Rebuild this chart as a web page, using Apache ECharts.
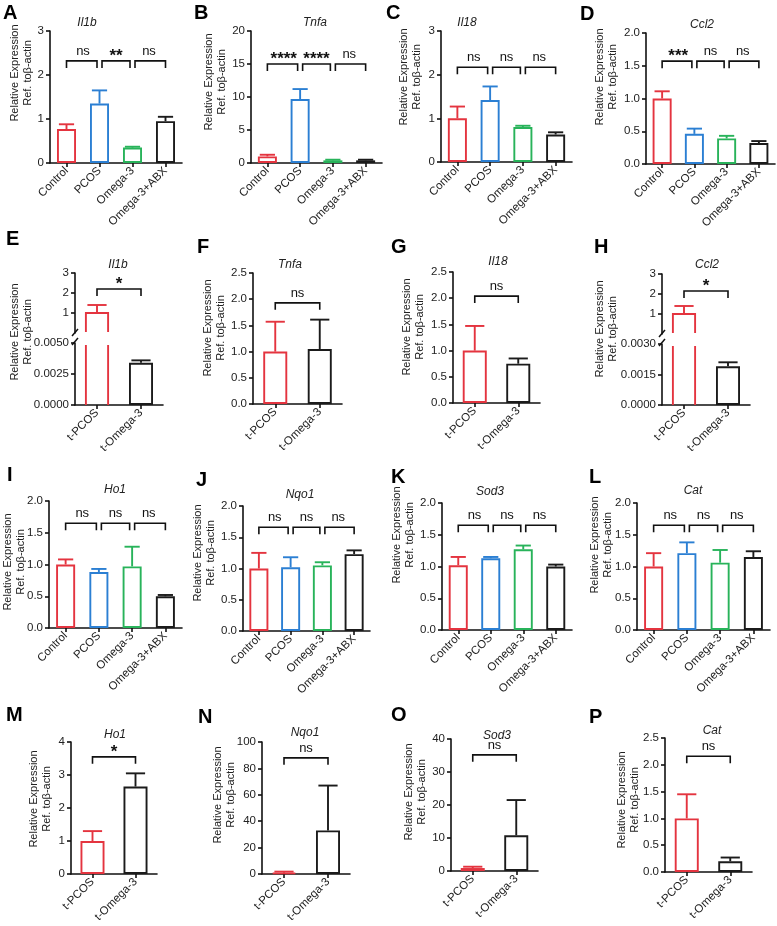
<!DOCTYPE html>
<html><head><meta charset="utf-8">
<script src="https://cdn.jsdelivr.net/npm/echarts@6/dist/echarts.min.js"></script>
<style>html,body{margin:0;padding:0;background:#fff}#c{width:777px;height:926px}</style>
</head><body><div id="c"></div>
<script>
const FONT = '"Liberation Sans", Arial, sans-serif';
const groups4 = ['Control', 'PCOS', 'Omega-3', 'Omega-3+ABX'];
const groups2 = ['t-PCOS', 't-Omega-3'];

// Row 1
const il1bMean = [0.77, 1.35, 0.35, 0.95], il1bSD = [0.11, 0.30, 0.02, 0.10], il1bSig = ['ns', '**', 'ns'];
const tnfaMean = [1.0, 9.7, 0.4, 0.4], tnfaSD = [0.25, 1.5, 0.1, 0.1], tnfaSig = ['****', '****', 'ns'];
const il18Mean = [1.0, 1.42, 0.80, 0.63], il18SD = [0.27, 0.31, 0.03, 0.05], il18Sig = ['ns', 'ns', 'ns'];
const ccl2Mean = [1.0, 0.46, 0.39, 0.32], ccl2SD = [0.11, 0.08, 0.04, 0.03], ccl2Sig = ['***', 'ns', 'ns'];
// Row 2
const tIl1bMean = [1.0, 0.0034], tIl1bSD = [0.4, 0.0002], tIl1bSig = ['*'];
const tTnfaMean = [1.0, 1.05], tTnfaSD = [0.57, 0.56], tTnfaSig = ['ns'];
const tIl18Mean = [1.0, 0.75], tIl18SD = [0.47, 0.10], tIl18Sig = ['ns'];
const tCcl2Mean = [1.0, 0.0019], tCcl2SD = [0.4, 0.0002], tCcl2Sig = ['*'];
// Row 3
const ho1Mean = [1.0, 0.88, 0.97, 0.50], ho1SD = [0.08, 0.05, 0.31, 0.02], ho1Sig = ['ns', 'ns', 'ns'];
const nqo1Mean = [1.0, 1.02, 1.05, 1.23], nqo1SD = [0.25, 0.16, 0.05, 0.06], nqo1Sig = ['ns', 'ns', 'ns'];
const sod3Mean = [1.02, 1.13, 1.27, 1.0], sod3SD = [0.13, 0.02, 0.06, 0.03], sod3Sig = ['ns', 'ns', 'ns'];
const catMean = [1.0, 1.21, 1.06, 1.15], catSD = [0.21, 0.17, 0.20, 0.09], catSig = ['ns', 'ns', 'ns'];
// Row 4
const tHo1Mean = [1.0, 2.65], tHo1SD = [0.3, 0.4], tHo1Sig = ['*'];
const tNqo1Mean = [1.0, 33], tNqo1SD = [0.8, 34], tNqo1Sig = ['ns'];
const tSod3Mean = [0.9, 10.8], tSod3SD = [0.4, 10.7], tSod3Sig = ['ns'];
const tCatMean = [1.0, 0.2], tCatSD = [0.45, 0.07], tCatSig = ['ns'];

const RED = '#e4343f', BLUE = '#2b7fd3', GREEN = '#28b35a', BLACK = '#1b1b1b';
const C4 = [RED, BLUE, GREEN, BLACK], C2 = [RED, BLACK];
function colorFor(cats, i) { return (cats.length === 4 ? C4 : C2)[i]; }

const panels = [
  {L:'A', gene:'Il1b', cats:groups4, mean:il1bMean, sd:il1bSD, sig:il1bSig, sigY:2.32, max:3, step:1, dec:0, g:[50,31,132,132], letter:[4,6], title:[87,23], yname:[21,73]},
  {L:'B', gene:'Tnfa', cats:groups4, mean:tnfaMean, sd:tnfaSD, sig:tnfaSig, sigY:15.0, max:20, step:5, dec:0, g:[251,31,131,132], letter:[195,6], title:[315,23], yname:[215,82]},
  {L:'C', gene:'Il18', cats:groups4, mean:il18Mean, sd:il18SD, sig:il18Sig, sigY:2.17, max:3, step:1, dec:0, g:[441,31,131,131], letter:[387,6], title:[467,23], yname:[410,77]},
  {L:'D', gene:'Ccl2', cats:groups4, mean:ccl2Mean, sd:ccl2SD, sig:ccl2Sig, sigY:1.57, max:2, step:0.5, dec:1, g:[646,33,129,131], letter:[581,7], title:[702,25], yname:[606,77]},
  {L:'E', gene:'Il1b', cats:groups2, mean:tIl1bMean, sd:tIl1bSD, sig:tIl1bSig, sigY:2.2, split:true, upMax:3, lowMax:0.005, lowStep:0.0025, lowDec:4, gUp:[75,273,88,60], gLow:[75,343,88,62], letter:[7,232], title:[118,265], yname:[21,332]},
  {L:'F', gene:'Tnfa', cats:groups2, mean:tTnfaMean, sd:tTnfaSD, sig:tTnfaSig, sigY:1.93, max:2.5, step:0.5, dec:1, g:[253,273,89,131], letter:[198,240], title:[290,265], yname:[214,328]},
  {L:'G', gene:'Il18', cats:groups2, mean:tIl18Mean, sd:tIl18SD, sig:tIl18Sig, sigY:2.04, max:2.5, step:0.5, dec:1, g:[453,272,87,131], letter:[392,240], title:[498,262], yname:[413,327]},
  {L:'H', gene:'Ccl2', cats:groups2, mean:tCcl2Mean, sd:tCcl2SD, sig:tCcl2Sig, sigY:2.15, split:true, upMax:3, lowMax:0.003, lowStep:0.0015, lowDec:4, gUp:[662,274,88,60], gLow:[662,344,88,61], letter:[595,240], title:[707,265], yname:[606,329]},
  {L:'I', gene:'Ho1', cats:groups4, mean:ho1Mean, sd:ho1SD, sig:ho1Sig, sigY:1.65, max:2, step:0.5, dec:1, g:[49,501,133,127], letter:[8,468], title:[115,490], yname:[14,562]},
  {L:'J', gene:'Nqo1', cats:groups4, mean:nqo1Mean, sd:nqo1SD, sig:nqo1Sig, sigY:1.66, max:2, step:0.5, dec:1, g:[243,506,127,125], letter:[197,473], title:[300,495], yname:[204,553]},
  {L:'K', gene:'Sod3', cats:groups4, mean:sod3Mean, sd:sod3SD, sig:sod3Sig, sigY:1.65, max:2, step:0.5, dec:1, g:[442,503,130,127], letter:[392,470], title:[490,492], yname:[403,535]},
  {L:'L', gene:'Cat', cats:groups4, mean:catMean, sd:catSD, sig:catSig, sigY:1.65, max:2, step:0.5, dec:1, g:[637,503,133,127], letter:[590,470], title:[693,491], yname:[601,545]},
  {L:'M', gene:'Ho1', cats:groups2, mean:tHo1Mean, sd:tHo1SD, sig:tHo1Sig, sigY:3.55, max:4, step:1, dec:0, g:[71,742,86,132], letter:[7,708], title:[115,735], yname:[40,799]},
  {L:'N', gene:'Nqo1', cats:groups2, mean:tNqo1Mean, sd:tNqo1SD, sig:tNqo1Sig, sigY:88, max:100, step:20, dec:0, g:[262,742,88,132], letter:[199,710], title:[305,733], yname:[224,795]},
  {L:'O', gene:'Sod3', cats:groups2, mean:tSod3Mean, sd:tSod3SD, sig:tSod3Sig, sigY:35.2, max:40, step:10, dec:0, g:[451,739,87,132], letter:[392,708], title:[497,736], yname:[415,792]},
  {L:'P', gene:'Cat', cats:groups2, mean:tCatMean, sd:tCatSD, sig:tCatSig, sigY:2.16, max:2.5, step:0.5, dec:1, g:[665,738,87,134], letter:[590,710], title:[712,731], yname:[628,800]}
];

const grids = [], xAxis = [], yAxis = [], series = [], graphic = [];
const LINE = {color:'#111', width:1.6};

function mkGrid(r) { grids.push({left:r[0], top:r[1], width:r[2], height:r[3], containLabel:false}); return grids.length - 1; }
function mkX(gi, cats, show) {
  xAxis.push({type:'category', gridIndex:gi, data:cats, show:show,
    axisLine:{show:true, onZero:false, lineStyle:LINE},
    axisTick:{show:true, alignWithLabel:true, length:4, lineStyle:LINE},
    axisLabel:{show:true, interval:0, rotate:45, fontSize:11.5, color:'#222', fontFamily:FONT, margin:6}});
}
function mkY(gi, max, step, dec, custom) {
  const ax = {type:'value', gridIndex:gi, min:0, max:max, interval:step,
    axisLine:{show:true, lineStyle:LINE},
    axisTick:{show:true, length:4, lineStyle:LINE},
    splitLine:{show:false},
    axisLabel:{fontSize:11.5, color:'#222', fontFamily:FONT, margin:6, formatter: v => v.toFixed(dec)}};
  if (custom) { ax.axisTick.customValues = custom; ax.axisLabel.customValues = custom; }
  yAxis.push(ax);
}
function mkBars(gi, cats, vals, bw) {
  series.push({type:'bar', xAxisIndex:gi, yAxisIndex:gi, barWidth:bw, silent:true, animation:false,
    data: vals.map((v, i) => v == null ? '-' : ({value:v, itemStyle:{borderColor:colorFor(cats, i)}})),
    itemStyle:{color:'#fff', borderWidth:1.9}});
}
function mkErr(gi, cats, mean, sd, bw, keep) {
  const data = mean.map((m, i) => [i, m, sd[i]]).filter(d => keep(d[1]));
  series.push({type:'custom', xAxisIndex:gi, yAxisIndex:gi, silent:true, animation:false, data:data,
    encode:{x:0, y:1},
    renderItem:(params, api) => {
      const i = api.value(0), m = api.value(1), s = api.value(2);
      const b = api.coord([i, m]), t = api.coord([i, m + s]);
      const c = colorFor(cats, i), h = bw * 0.4;
      return {type:'group', children:[
        {type:'line', shape:{x1:b[0], y1:b[1], x2:b[0], y2:t[1]}, style:{stroke:c, lineWidth:1.9}},
        {type:'line', shape:{x1:b[0]-h, y1:t[1], x2:b[0]+h, y2:t[1]}, style:{stroke:c, lineWidth:1.9}}
      ]};
    }});
}
function mkSig(gi, sig, level, nCats) {
  series.push({type:'custom', xAxisIndex:gi, yAxisIndex:gi, silent:true, animation:false,
    data: sig.map((s, k) => [k, level]), encode:{x:0, y:1},
    renderItem:(params, api) => {
      const k = api.value(0), lv = api.value(1);
      const p0 = api.coord([k, lv]), p1 = api.coord([k + 1, lv]);
      const g0 = (k > 0) ? 2.5 : 0, g1 = (k + 1 < nCats - 1) ? 2.5 : 0;
      const d = 7, x0 = p0[0] + g0, x1 = p1[0] - g1, y = p0[1];
      const txt = sig[params.dataIndex];
      const star = txt !== 'ns';
      return {type:'group', children:[
        {type:'polyline', shape:{points:[[x0, y + d], [x0, y], [x1, y], [x1, y + d]]}, style:{stroke:'#111', lineWidth:1.6, fill:null}},
        {type:'text', style:{text:txt, x:(p0[0] + p1[0]) / 2, y: star ? y + 4 : y - 3,
          font: star ? 'bold 17px ' + FONT : '13px ' + FONT, fill:'#111',
          textAlign:'center', textVerticalAlign:'bottom', align:'center', verticalAlign:'bottom'}}
      ]};
    }});
}

panels.forEach(p => {
  const n = p.cats.length, bw = n === 4 ? 19 : 24;
  if (!p.split) {
    const gi = mkGrid(p.g);
    mkX(gi, p.cats, true);
    mkY(gi, p.max, p.step, p.dec);
    mkBars(gi, p.cats, p.mean, bw);
    mkErr(gi, p.cats, p.mean, p.sd, bw, () => true);
    mkSig(gi, p.sig, p.sigY, n);
  } else {
    const lowMax = p.lowMax, cats = p.cats;
    // upper segment
    const gu = mkGrid(p.gUp);
    mkX(gu, cats, false);
    const cv = []; for (let v = 1; v <= p.upMax; v++) cv.push(v);
    mkY(gu, p.upMax, 1, 0, cv);
    series.push({type:'custom', xAxisIndex:gu, yAxisIndex:gu, silent:true, animation:false,
      data: p.mean.map((m, i) => [i, m]).filter(d => d[1] > lowMax), encode:{x:0, y:1},
      renderItem:(params, api) => {
        const i = api.value(0), b = api.coord([i, api.value(1)]);
        const bot = params.coordSys.y + params.coordSys.height - 1, h = bw / 2 - 0.9;
        return {type:'polyline', shape:{points:[[b[0]-h, bot], [b[0]-h, b[1]], [b[0]+h, b[1]], [b[0]+h, bot]]},
          style:{stroke:colorFor(cats, i), lineWidth:1.9, fill:null}};
      }});
    mkErr(gu, cats, p.mean, p.sd, bw, v => v > lowMax);
    mkSig(gu, p.sig, p.sigY, n);
    // break mark on the axis
    series.push({type:'custom', xAxisIndex:gu, yAxisIndex:gu, silent:true, animation:false,
      data:[[0, 0]], encode:{x:0, y:1},
      renderItem:(params) => {
        const x = params.coordSys.x, y = params.coordSys.y + params.coordSys.height;
        return {type:'group', children:[
          {type:'line', shape:{x1:x-3, y1:y+3, x2:x+3, y2:y-4}, style:{stroke:'#111', lineWidth:1.5}},
          {type:'line', shape:{x1:x-3, y1:y+12, x2:x+3, y2:y+5}, style:{stroke:'#111', lineWidth:1.5}}
        ]};
      }});
    // lower segment
    const gl = mkGrid(p.gLow);
    mkX(gl, cats, true);
    mkY(gl, lowMax, p.lowStep, p.lowDec);
    mkBars(gl, cats, p.mean.map(v => v > lowMax ? null : v), bw);
    series.push({type:'custom', xAxisIndex:gl, yAxisIndex:gl, silent:true, animation:false,
      data: p.mean.map((m, i) => [i, m]).filter(d => d[1] > lowMax), encode:{x:0, y:1},
      renderItem:(params, api) => {
        const i = api.value(0), b = api.coord([i, 0]);
        const top = params.coordSys.y + 2, h = bw / 2 - 0.9, c = colorFor(cats, i);
        return {type:'group', children:[
          {type:'line', shape:{x1:b[0]-h, y1:top, x2:b[0]-h, y2:b[1]}, style:{stroke:c, lineWidth:1.9}},
          {type:'line', shape:{x1:b[0]+h, y1:top, x2:b[0]+h, y2:b[1]}, style:{stroke:c, lineWidth:1.9}}
        ]};
      }});
    mkErr(gl, cats, p.mean, p.sd, bw, v => v <= lowMax);
  }
  // decorations: panel letter, gene title, y-axis name
  graphic.push({type:'text', x:p.letter[0] - 1, y:p.letter[1] - 3, silent:true,
    style:{text:p.L, font:'bold 20px ' + FONT, fill:'#000', textVerticalAlign:'top', verticalAlign:'top'}});
  graphic.push({type:'text', x:p.title[0], y:p.title[1], silent:true,
    style:{text:p.gene, font:'italic 12px ' + FONT, fill:'#222', textAlign:'center', align:'center', textVerticalAlign:'middle', verticalAlign:'middle'}});
  graphic.push({type:'text', x:p.yname[0], y:p.yname[1], rotation:Math.PI / 2, silent:true,
    style:{text:'Relative Expression\nRef. toβ-actin', font:'11px ' + FONT, lineHeight:13, fill:'#222',
      textAlign:'center', align:'center', textVerticalAlign:'middle', verticalAlign:'middle'}});
});

const chart = echarts.init(document.getElementById('c'), null, {renderer:'canvas'});
chart.setOption({animation:false, backgroundColor:'#fff', grid:grids, xAxis:xAxis, yAxis:yAxis, series:series, graphic:graphic});
</script></body></html>
